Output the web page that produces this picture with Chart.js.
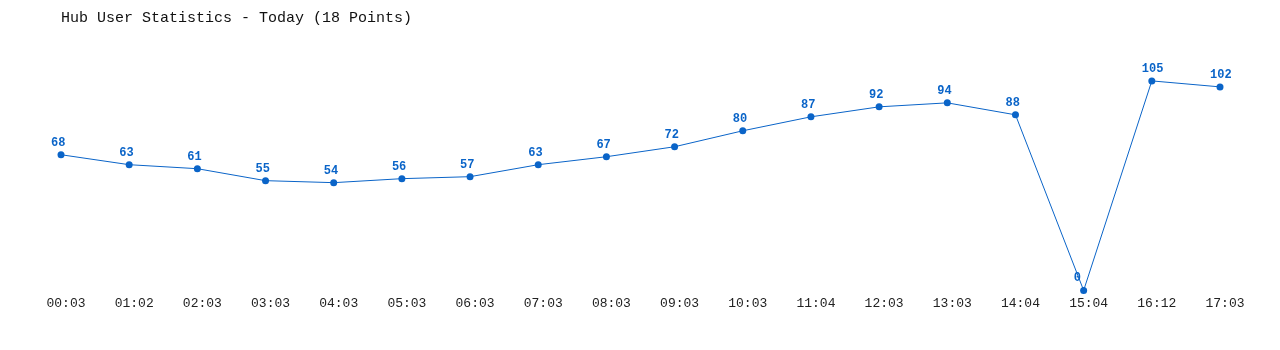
<!DOCTYPE html>
<html><head><meta charset="utf-8">
<script src="https://cdn.jsdelivr.net/npm/chart.js@4/dist/chart.umd.min.js"></script>
<style>html,body{margin:0;padding:0;background:#fff}#wrap{width:1280px;height:350px}</style>
</head><body><div id="wrap"><canvas id="c" width="1280" height="350"></canvas></div>
<script>
const categories = ["00:03","01:02","02:03","03:03","04:03","05:03","06:03","07:03","08:03","09:03","10:03","11:04","12:03","13:03","14:04","15:04","16:12","17:03"];
const users = [68,63,61,55,54,56,57,63,67,72,80,87,92,94,88,0,105,102];
const titleText = "Hub User Statistics - Today (18 Points)";
const blue = "#0a64c8";

const labelPlugin = {
  id: 'pointLabels',
  afterDatasetsDraw(chart) {
    const ctx = chart.ctx;
    const meta = chart.getDatasetMeta(0);
    ctx.save();
    ctx.font = "bold 12px 'Liberation Mono', monospace";
    ctx.fillStyle = blue;
    ctx.textAlign = 'left';
    ctx.textBaseline = 'alphabetic';
    meta.data.forEach((pt, i) => {
      ctx.fillText(String(users[i]), pt.x - 10, pt.y - 9);
    });
    ctx.restore();
  }
};

new Chart(document.getElementById('c'), {
  type: 'line',
  data: {
    labels: categories,
    datasets: [{
      data: users,
      borderColor: blue,
      backgroundColor: blue,
      borderWidth: 1,
      pointRadius: 3.5,
      pointHoverRadius: 3.5,
      pointBackgroundColor: blue,
      pointBorderWidth: 0,
      tension: 0,
      fill: false,
      clip: false
    }]
  },
  options: {
    responsive: false,
    animation: false,
    devicePixelRatio: 1,
    layout: { padding: { left: 61, right: 60, top: 17, bottom: 34 } },
    plugins: {
      legend: { display: false },
      tooltip: { enabled: false },
      title: {
        display: true,
        text: titleText,
        align: 'start',
        color: '#111',
        font: { family: "'Liberation Mono', monospace", size: 15, weight: 'normal' },
        padding: { top: -8, bottom: 14 }
      }
    },
    scales: {
      x: {
        offset: false,
        grid: { display: false, drawTicks: false },
        border: { display: false },
        ticks: {
          color: '#222',
          font: { family: "'Liberation Mono', monospace", size: 13 },
          maxRotation: 0,
          autoSkip: false,
          padding: 5,
          labelOffset: 5
        }
      },
      y: {
        display: false,
        min: 0,
        max: 125
      }
    }
  },
  plugins: [labelPlugin]
});
</script>
</body></html>
